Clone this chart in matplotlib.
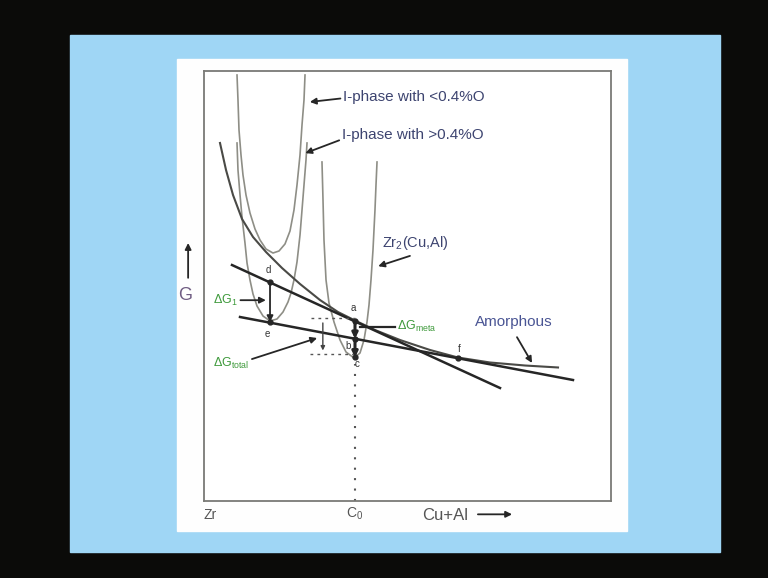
import matplotlib.pyplot as plt
from matplotlib.patches import Rectangle

plt.rcParams['font.family'] = ['Liberation Sans', 'DejaVu Sans']
plt.rcParams['mathtext.fontset'] = 'custom'
plt.rcParams['mathtext.rm'] = 'Liberation Sans'
plt.rcParams['mathtext.it'] = 'Liberation Sans'

# composition (0 = Zr side of the frame, 100 = right side) and G
iphase_low_x = [8.11, 8.35, 8.60, 9.09, 9.58, 10.32, 11.30, 12.53, 13.76, 15.23, 16.95,
                18.43, 19.90, 21.13, 22.11, 22.85, 23.59, 24.08, 24.57, 24.82]
iphase_low_g = [99.07, 93.26, 86.28, 80.47, 75.81, 71.16, 66.98, 63.26, 60.70, 58.60, 57.67,
                58.14, 59.77, 62.79, 67.67, 73.49, 80.47, 87.44, 93.26, 99.07]

iphase_high_x = [8.11, 8.35, 8.85, 9.34, 10.07, 10.57, 11.30, 12.04, 13.02, 14.50, 16.22,
                 17.94, 19.41, 20.64, 21.38, 22.11, 22.85, 23.59, 24.08, 24.57, 25.06, 25.31]
iphase_high_g = [83.26, 76.98, 71.16, 66.05, 60.00, 55.35, 51.40, 48.14, 45.35, 43.02, 41.86,
                 42.33, 43.95, 46.28, 48.37, 51.40, 55.58, 61.86, 67.67, 73.49, 79.30, 83.26]

zr2_x = [28.99, 29.24, 29.48, 29.98, 30.71, 31.94, 33.42, 34.89, 36.86,
         38.33, 39.31, 40.05, 40.54, 41.03, 41.52, 42.01, 42.26, 42.51]
zr2_g = [78.84, 70.00, 60.70, 51.40, 46.05, 41.63, 37.44, 34.65, 33.26,
         34.42, 37.44, 41.63, 45.58, 51.40, 58.37, 67.67, 73.49, 78.84]

amorph_x = [3.93, 5.41, 7.13, 9.34, 12.04, 15.23, 19.16, 23.59, 28.50, 32.92, 37.10,
            42.01, 48.16, 55.53, 62.41, 70.27, 78.87, 86.98]
amorph_g = [83.26, 76.98, 71.16, 65.58, 61.40, 57.91, 54.19, 50.47, 46.74, 43.95, 41.98,
            39.77, 37.44, 35.12, 33.37, 32.21, 31.51, 31.05]

tangent1_x = [6.88, 72.73]
tangent1_g = [54.88, 26.28]
tangent2_x = [8.85, 90.66]
tangent2_g = [42.79, 28.14]

c0 = 37.1
point_names = ['d', 'e', 'a', 'b', 'c', 'f']
point_x = [16.22, 16.22, 37.10, 37.10, 37.10, 62.41]
point_g = [50.83, 41.60, 41.90, 37.73, 33.40, 33.30]

grey = '#8e8e86'
dark = '#262626'
label_col = '#3d4470'
green = '#3f9a3c'

fig = plt.figure(figsize=(7.68, 5.78), dpi=100, facecolor='#0b0b09')
fig.patches.append(Rectangle((70 / 768, 1 - 552 / 578), 650 / 768, 517 / 578,
                             transform=fig.transFigure, color='#9fd6f5', zorder=-2))
fig.patches.append(Rectangle((177 / 768, 1 - 531 / 578), 450 / 768, 472 / 578,
                             transform=fig.transFigure, color='#fefefe', zorder=-1))

ax = fig.add_axes([204 / 768, 1 - 501 / 578, 407 / 768, 430 / 578])
ax.set_xlim(0, 100)
ax.set_ylim(0, 100)
ax.set_xticks([])
ax.set_yticks([])
ax.set_facecolor('white')
for s in ax.spines.values():
    s.set_color('#7a7a76')
    s.set_linewidth(1.3)

ax.plot(iphase_low_x, iphase_low_g, color=grey, lw=1.2)
ax.plot(iphase_high_x, iphase_high_g, color=grey, lw=1.2)
ax.plot(zr2_x, zr2_g, color=grey, lw=1.2)
ax.plot(amorph_x, amorph_g, color='#4a4a46', lw=1.5)
ax.plot(tangent1_x, tangent1_g, color=dark, lw=1.8)
ax.plot(tangent2_x, tangent2_g, color=dark, lw=1.8)

ax.plot(point_x, point_g, 'o', color=dark, ms=3.5)
pt = dict(zip(point_names, zip(point_x, point_g)))
label_off = {'d': (-0.5, 2.8), 'e': (-0.7, -2.8), 'a': (-0.5, 3.0),
             'b': (-1.7, -1.7), 'c': (0.5, -1.5), 'f': (0.2, 2.0)}
for n in point_names:
    dx, dy = label_off[n]
    ax.text(pt[n][0] + dx, pt[n][1] + dy, n, fontsize=7, color='#333333',
            ha='center', va='center')

# dotted line down to C0
ax.plot([c0, c0], [0, pt['c'][1] - 1.5], color='#555555', lw=1.5, ls=(0, (1, 4)))

arrow = dict(arrowstyle='-|>', color=dark, lw=1.3, mutation_scale=9, shrinkA=0, shrinkB=0)

# delta G1: d -> e
ax.annotate('', xy=pt['e'], xytext=pt['d'], arrowprops=arrow)
ax.annotate(r'$\mathrm{\Delta G_1}$', xy=(15.2, 46.7), xytext=(2.2, 46.7), color=green,
            fontsize=9, va='center', arrowprops=arrow, annotation_clip=False)

# delta G meta: a -> b -> c
ax.annotate('', xy=pt['b'], xytext=pt['a'],
            arrowprops=dict(arrow, lw=2.2, mutation_scale=8))
ax.annotate('', xy=pt['c'], xytext=pt['b'],
            arrowprops=dict(arrow, lw=2.2, mutation_scale=8))
ax.plot([38.3, 46.9], [40.5, 40.5], color=dark, lw=1.6)
ax.text(47.4, 40.5, r'$\mathrm{\Delta G_{meta}}$', color=green, fontsize=9, va='center')

# delta G total bracket
ax.plot([26.3, 37.0], [pt['a'][1] + 0.6, pt['a'][1] + 0.6], color='#555555', lw=1.0,
        ls=(0, (2, 3)))
ax.plot([26.0, 36.5], [pt['c'][1] + 0.8, pt['c'][1] + 0.8], color='#555555', lw=1.0,
        ls=(0, (2, 3)))
ax.annotate('', xy=(29.2, pt['c'][1] + 1.6), xytext=(29.2, pt['a'][1] - 0.5),
            arrowprops=dict(arrow, color='#444444', lw=1.0, mutation_scale=6))
ax.annotate(r'$\mathrm{\Delta G_{total}}$', xy=(27.8, 37.9), xytext=(2.2, 32.1),
            color=green, fontsize=9, va='center', annotation_clip=False,
            arrowprops=dict(arrow, relpos=(1.0, 0.7)))

# phase labels
ax.annotate('I-phase with <0.4%O', xy=(26.0, 92.8), xytext=(34.2, 94.0),
            color=label_col, fontsize=11, va='center',
            arrowprops=dict(arrow, relpos=(0.0, 0.4)))
ax.annotate('I-phase with >0.4%O', xy=(24.9, 80.9), xytext=(33.9, 85.1),
            color=label_col, fontsize=11, va='center',
            arrowprops=dict(arrow, relpos=(0.0, 0.2)))
ax.annotate(r'Zr$_2$(Cu,Al)', xy=(42.8, 54.6), xytext=(43.7, 60.0),
            color=label_col, fontsize=10.5, va='center')
ax.annotate('', xy=(42.8, 54.6), xytext=(50.6, 57.0), arrowprops=arrow)
ax.text(76.2, 41.6, 'Amorphous', color='#4a5594', fontsize=11, ha='center', va='center')
ax.annotate('', xy=(80.6, 32.1), xytext=(76.9, 38.1), arrowprops=arrow)

# axis captions
ax.text(-4.7, 47.9, 'G', color='#6f5c82', fontsize=13, ha='center', va='center')
ax.annotate('', xy=(-3.9, 60.0), xytext=(-3.9, 51.9), arrowprops=arrow,
            annotation_clip=False)
ax.text(1.5, -3.3, 'Zr', color='#555555', fontsize=10, ha='center', va='center')
ax.text(c0, -3.0, r'C$_0$', color='#555555', fontsize=10, ha='center', va='center')
ax.text(59.2, -3.3, 'Cu+Al', color='#555555', fontsize=12, ha='center', va='center')
ax.annotate('', xy=(75.7, -3.1), xytext=(67.3, -3.1), arrowprops=arrow,
            annotation_clip=False)

fig.savefig('out.png', dpi=100, facecolor=fig.get_facecolor())
